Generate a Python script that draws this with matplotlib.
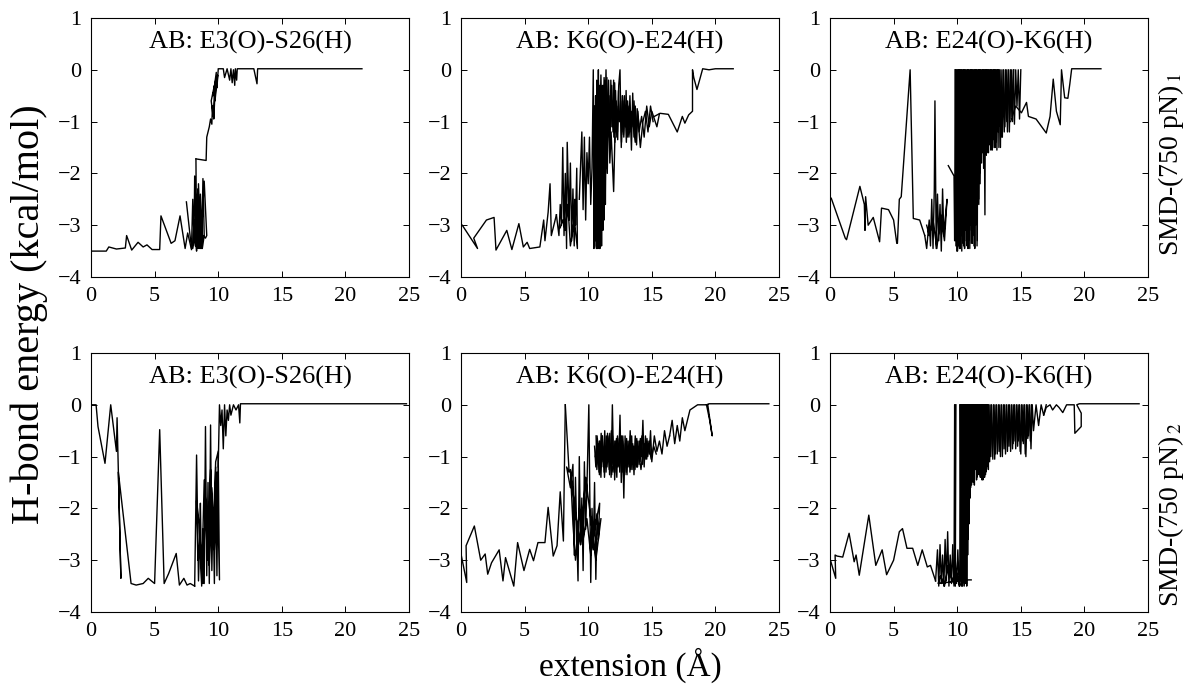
import matplotlib
matplotlib.use("Agg")
import matplotlib.pyplot as plt

plt.rcParams["font.family"] = ["Liberation Serif", "DejaVu Serif"]
plt.rcParams["mathtext.fontset"] = "stix"

# -----------------------------
# panel titles / row labels
# -----------------------------
titles = ["AB: E3(O)-S26(H)", "AB: K6(O)-E24(H)", "AB: E24(O)-K6(H)"]
row_labels = ["SMD-(750 pN)$_{\\,1}$", "SMD-(750 pN)$_{\\,2}$"]
x_ticks = [0, 5, 10, 15, 20, 25]
y_ticks = [-4, -3, -2, -1, 0, 1]

# -----------------------------
# panel 1 : E3(O)-S26(H), run 1
# -----------------------------
p1_x = [0.0, 1.2, 1.4, 2.0, 2.7, 2.8, 3.2, 3.7, 4.1, 4.4, 4.8, 5.4, 5.5, 6.3, 6.6, 7.0, 7.4, 7.6, 7.9]
p1_y = [-3.5, -3.5, -3.42, -3.46, -3.44, -3.2, -3.48, -3.33, -3.42, -3.38, -3.47, -3.47, -2.82, -3.35,
        -3.3, -2.82, -3.45, -3.15, -3.47]
c1_x = [7.5, 7.9, 8.0, 8.1, 8.15, 8.3, 8.2, 8.4, 8.45, 8.6, 8.55, 8.7, 8.8, 8.9, 8.75, 8.6, 8.5, 8.35,
        8.2, 8.1, 8.0, 8.25, 8.4, 8.6, 8.85, 9.0, 9.1, 8.9, 8.7, 8.3, 8.25]
c1_y = [-2.55, -3.45, -2.5, -3.3, -2.05, -3.5, -2.4, -3.45, -2.2, -3.3, -2.6, -3.45, -2.1, -3.2, -3.45,
        -2.4, -3.45, -2.7, -3.4, -2.9, -3.45, -3.1, -2.3, -3.45, -3.2, -3.25, -3.2, -2.15, -3.1, -3.45, -1.72]
r1_x = [8.25, 9.05, 9.1, 9.3, 9.4, 9.5, 9.55, 9.6, 9.45, 9.7, 9.65, 9.8, 9.6, 9.85, 9.75, 9.95, 9.9,
        10.0, 10.0, 10.4, 10.5, 10.7, 10.9, 11.0, 11.1, 11.2, 11.3, 11.35, 11.45, 11.5, 11.6, 12.5,
        12.8, 13.05, 13.1, 21.3]
r1_y = [-1.72, -1.75, -1.3, -1.1, -0.95, -1.05, -0.7, -0.9, -0.6, -0.3, -0.95, -0.2, -0.5, -0.05, -0.6,
        -0.1, -0.35, 0.0, 0.02, 0.02, -0.15, 0.02, -0.2, 0.02, -0.25, 0.0, -0.3, 0.02, -0.2, 0.02, 0.02,
        0.02, 0.02, -0.27, 0.02, 0.02]

# -----------------------------
# panel 2 : K6(O)-E24(H), run 1
# -----------------------------
p2_x = [0.1, 1.3, 1.0, 2.0, 2.6, 2.75, 3.6, 4.0, 4.55, 4.9, 5.2, 5.4, 6.2, 6.5, 6.6, 6.85, 7.0, 7.1, 7.5]
p2_y = [-3.0, -3.45, -3.25, -2.9, -2.85, -3.48, -3.1, -3.47, -2.97, -3.42, -3.33, -3.45, -3.42, -2.9,
        -3.3, -2.75, -2.2, -3.2, -2.8]
c2a_x = [7.5, 7.7, 7.8, 7.9, 8.0, 8.1, 8.2, 8.3, 8.35, 8.5, 8.6, 8.7, 8.8, 8.9, 8.95, 9.0, 9.1, 9.15,
         8.9, 8.6, 8.4, 8.2, 8.0, 7.8]
c2a_y = [-2.8, -3.2, -2.6, -3.0, -1.5, -3.2, -2.0, -3.45, -1.4, -2.9, -1.8, -3.3, -2.3, -3.4, -2.5,
         -3.0, -1.9, -3.45, -2.9, -3.4, -2.6, -3.1, -2.9, -3.05]
c2b_x = [9.3, 9.5, 9.6, 9.7, 9.8, 9.9, 10.0, 10.1, 10.2, 10.3, 10.4, 10.45, 10.5, 10.55, 10.6, 10.65,
         10.7, 10.75, 10.8, 10.85, 10.9, 10.95, 11.0, 11.05, 11.1, 11.15, 11.2, 11.25, 11.3, 11.35,
         11.4, 11.5, 11.6, 11.7, 11.8, 12.0, 12.1]
c2b_y = [-2.5, -1.2, -2.7, -1.3, -2.9, -1.6, -2.2, -1.3, -2.6, -1.9, 0.0, -3.45, -0.7, -3.3, -1.0,
         -3.45, -0.5, -3.0, 0.0, -3.45, -0.8, -3.35, -0.6, -3.4, -0.3, -3.1, -1.0, -2.9, -0.2, -2.6,
         -1.2, -2.0, -0.5, -1.8, -1.2, -2.35, -1.3]
c2c_x = [10.6, 10.8, 10.9, 11.0, 11.1, 11.2, 11.3, 11.4, 11.5, 11.6, 11.7, 11.8, 11.9, 12.0, 12.1,
         12.2, 12.3, 12.4, 12.5, 12.6, 12.7, 12.8, 12.9, 13.0, 13.1, 13.2, 13.3, 13.4, 13.5, 13.6,
         13.7, 13.8, 13.9, 14.0, 14.2, 14.4, 14.6, 14.8, 15.0, 15.2, 15.4, 15.6]
c2c_y = [-1.4, -0.2, -1.3, -0.1, -1.5, -0.3, -1.2, 0.0, -1.4, -0.2, -1.3, -0.4, -1.1, -0.2, -1.4,
         -0.6, -1.2, -0.3, 0.0, -1.5, -0.5, -1.3, -0.7, -1.4, -0.6, -1.2, -0.8, -1.55, -0.45, -1.3,
         -0.7, -1.45, -0.8, -1.2, -0.9, -1.3, -0.7, -1.1, -0.8, -0.95, -1.1, -0.85]
c2d_x = [10.5, 10.65, 10.75, 10.85, 11.0, 11.15, 11.25, 11.35, 11.45, 11.55, 11.65, 11.75, 11.85,
         11.95, 12.05, 12.15, 12.25, 12.35, 12.45, 12.55, 12.65, 12.75, 12.85, 12.95, 13.05, 13.2,
         13.35, 13.5, 13.7, 13.9, 14.1, 14.3, 14.5, 14.7, 14.9, 15.1]
c2d_y = [-0.7, -1.1, -0.3, -1.4, -0.6, -1.2, -0.15, -1.0, -0.5, -1.3, -0.7, -1.1, -0.3, -1.2, -0.9,
         -0.4, -1.3, -0.8, -1.0, -0.6, -1.2, -0.9, -0.5, -1.1, -0.8, -1.3, -0.9, -1.0, -1.4, -0.9,
         -1.5, -1.0, -0.8, -1.2, -0.7, -1.0]
c2e_x = [10.52, 10.58, 10.62, 10.68, 10.72, 10.78, 10.82, 10.88, 10.92, 10.98, 11.02, 11.08, 11.12,
         11.18, 11.22, 11.28, 11.32, 11.38, 11.45, 11.55]
c2e_y = [-3.4, -0.5, -3.3, -0.2, -3.45, -0.8, -3.1, -0.3, -3.45, -0.6, -3.2, -0.4, -3.0, -0.9, -2.8,
         -0.5, -2.4, -0.7, -1.9, -0.6]
c2f_x = [11.33, 11.42, 11.47, 11.57, 11.63, 11.72, 11.78, 11.87, 11.93, 12.02, 12.08, 12.17, 12.23,
         12.32, 12.38, 12.47, 12.53, 12.62, 12.68, 12.77, 12.83, 12.92, 12.98, 13.07, 13.13, 13.22,
         13.28, 13.37, 13.43, 13.52, 13.6, 13.75, 13.85, 14.0]
c2f_y = [-0.3, -1.3, -0.15, -1.2, -0.5, -1.4, -0.2, -1.1, -0.6, -1.3, -0.25, -1.2, -0.7, -1.35, -0.4,
         -1.0, -0.8, -1.4, -0.5, -1.25, -0.6, -1.1, -0.4, -1.3, -0.7, -1.0, -0.5, -1.2, -0.8, -1.1,
         -0.6, -1.3, -0.75, -1.05]
r2_x = [15.2, 15.65, 16.3, 17.0, 17.4, 17.6, 17.9, 18.2, 18.2, 18.3, 18.55, 18.8, 19.0, 19.5, 20.0, 21.4]
r2_y = [-0.9, -0.84, -0.86, -1.2, -0.9, -1.03, -0.87, -0.8, 0.0, -0.15, -0.38, -0.16, 0.02, 0.0, 0.02, 0.02]

# -----------------------------
# panel 3 : E24(O)-K6(H), run 1
# -----------------------------
p3_x = [0.1, 1.2, 1.3, 2.35, 2.7, 2.75, 2.8, 3.0, 3.4, 3.9, 4.05, 4.6, 5.0, 5.25, 5.3, 5.45, 5.6,
        6.3, 6.55, 7.05, 7.45]
p3_y = [-2.48, -3.25, -3.28, -2.25, -2.6, -3.1, -2.45, -3.0, -2.85, -3.32, -2.67, -2.7, -2.9, -3.35,
        -3.35, -2.5, -2.45, 0.0, -2.87, -2.9, -3.2]
c3a_x = [7.45, 7.6, 7.8, 7.9, 8.0, 8.1, 8.2, 8.25, 8.35, 8.45, 8.55, 8.65, 8.75, 8.85, 8.95, 9.05,
         9.2, 9.0, 8.7, 8.4, 8.1, 7.8, 7.6]
c3a_y = [-3.2, -3.45, -2.9, -3.4, -2.5, -3.45, -2.3, -0.6, -3.45, -2.4, -3.3, -2.6, -3.5, -2.3, -3.2,
         -2.9, -2.5, -3.3, -2.8, -3.45, -2.9, -3.2, -3.0]
c3b_x = [9.3, 9.75, 9.8, 9.85]
c3b_y = [-1.85, -2.05, -3.3, 0.0]
c3c_x = [9.85, 9.9, 10.0, 10.02, 10.1, 10.12, 10.2, 10.25, 10.3, 10.38, 10.42, 10.5, 10.55, 10.6,
         10.68, 10.72, 10.8, 10.85, 10.9, 10.97, 11.02, 11.1, 11.15, 11.2, 11.28, 11.32, 11.4, 11.45,
         11.5, 11.58, 11.62, 11.7, 11.75, 11.8, 11.88, 11.92, 12.0, 12.05, 12.1, 12.18, 12.22, 12.3,
         12.35, 12.4, 12.48, 12.52, 12.6, 12.65, 12.7, 12.78, 12.82, 12.9, 12.95, 13.0, 13.08, 13.12,
         13.2, 13.25, 13.3, 13.4, 13.45, 13.55, 13.6, 13.7, 13.8, 13.9, 14.0, 14.1, 14.2, 14.3, 14.4,
         14.5, 14.6, 14.7, 14.8, 14.9, 15.0]
c3c_y = [0.0, -3.4, 0.0, -3.5, 0.0, -3.2, 0.0, -3.45, 0.0, -3.0, 0.0, -3.4, 0.0, -3.3,
         0.0, -2.9, 0.0, -3.45, 0.0, -3.1, 0.0, -3.35, 0.0, -2.8, 0.0, -3.4, 0.0, -3.0,
         0.0, -3.3, 0.0, -2.6, 0.0, -2.2, 0.0, -1.8, 0.0, -1.6, 0.0, -2.8, 0.0, -1.5,
         0.0, -1.6, 0.0, -1.3, 0.0, -1.55, 0.0, -1.2, 0.0, -1.5, 0.0, -1.4, 0.0, -1.55,
         0.0, -1.1, 0.0, -1.5, 0.0, -1.3, 0.0, -1.2, 0.0, -1.0, 0.0, -1.2, 0.0, -0.9, 0.0,
         -1.05, 0.0, -0.7, 0.0, -0.95, 0.0]
c3d_x = [9.88, 9.93, 9.97, 10.05, 10.08, 10.15, 10.18, 10.23, 10.28, 10.33, 10.36, 10.45, 10.48,
         10.53, 10.58, 10.63, 10.66, 10.75, 10.78, 10.83, 10.88, 10.93, 10.99, 11.05, 11.08, 11.13,
         11.18, 11.23, 11.26, 11.35, 11.38, 11.43, 11.48, 11.53, 11.56, 11.65, 11.68, 11.73, 11.78,
         11.83, 11.86, 11.95, 11.98, 12.03, 12.08, 12.13, 12.16, 12.25, 12.28, 12.33, 12.38, 12.43,
         12.46, 12.55, 12.58, 12.63, 12.68, 12.73, 12.76, 12.85, 12.88, 12.93, 12.98, 13.03, 13.06,
         13.15, 13.18, 13.23, 13.28, 13.35, 13.5, 13.65, 13.75, 13.85, 13.95, 14.05, 14.15, 14.25,
         14.35, 14.45]
c3d_y = [-3.3, 0.0, -3.5, 0.0, -3.4, 0.0, -3.45, 0.0, -3.2, 0.0, -3.5, 0.0, -3.35, 0.0, -3.45, 0.0,
         -3.1, 0.0, -3.4, 0.0, -3.3, 0.0, -3.45, 0.0, -3.0, 0.0, -3.35, 0.0, -3.2, 0.0, -3.45, 0.0,
         -2.9, 0.0, -3.4, 0.0, -2.5, 0.0, -2.0, 0.0, -1.7, 0.0, -1.6, 0.0, -1.9, 0.0, -1.5, 0.0,
         -1.65, 0.0, -1.4, 0.0, -1.6, 0.0, -1.45, 0.0, -1.3, 0.0, -1.55, 0.0, -1.35, 0.0, -1.5, 0.0,
         -1.4, 0.0, -1.2, 0.0, -1.5, 0.0, -1.3, 0.0, -1.1, 0.0, -1.2, 0.0, -0.95, 0.0, -1.0, 0.0]
r3_x = [14.2, 14.6, 15.05, 15.45, 15.6, 16.2, 17.0, 17.3, 17.55, 17.8, 18.1, 18.2, 18.45, 18.7,
        18.85, 19.0, 21.3]
r3_y = [-1.0, -0.7, -0.83, -0.63, -0.9, -0.95, -1.22, -0.9, -0.18, -0.8, -1.06, 0.0, -0.54, -0.55,
        -0.28, 0.02, 0.02]

# -----------------------------
# panel 4 : E3(O)-S26(H), run 2
# -----------------------------
p4_x = [0.0, 0.4, 0.55, 1.1, 1.55, 2.0, 2.05, 2.35, 2.15, 3.15, 3.55, 4.1, 4.5, 5.0, 5.4, 5.75,
        6.1, 6.7, 6.95, 7.3, 7.55, 7.8, 8.15]
p4_y = [0.0, 0.0, -0.42, -1.13, 0.0, -0.9, -0.25, -3.35, -1.3, -3.45, -3.48, -3.45, -3.35, -3.45,
        -0.48, -3.45, -3.26, -2.87, -3.48, -3.35, -3.48, -3.45, -3.5]
c4_x = [8.15, 8.3, 8.45, 8.55, 8.6, 8.7, 8.8, 8.9, 9.0, 9.1, 9.2, 9.3, 9.4, 9.5, 9.6, 9.7, 9.8,
        9.9, 10.0, 10.1, 9.9, 9.7, 9.5, 9.3, 9.1, 8.9, 8.7, 8.5, 8.3, 8.4, 8.6, 8.8, 9.0, 9.2, 9.4,
        9.6, 9.8, 10.0]
c4_y = [-3.5, -0.97, -3.4, -2.6, -1.9, -3.5, -2.4, -3.45, -0.42, -3.3, -1.5, -3.45, -0.39, -3.2,
        -2.0, -3.45, -1.2, -3.3, -0.94, -3.38, -1.3, -2.8, -1.6, -3.1, -2.2, -1.45, -3.45, -2.3,
        -1.85, -3.0, -2.7, -3.45, -1.9, -3.0, -1.25, -2.5, -1.1, -0.9]
r4_x = [10.0, 10.1, 10.2, 10.3, 10.4, 10.5, 10.6, 10.7, 10.8, 10.9, 11.0, 11.2, 11.4, 11.6, 11.7,
        11.75, 12.0, 24.8]
r4_y = [-1.2, 0.0, -0.4, -0.1, -0.85, 0.0, -0.6, -0.1, -0.3, 0.0, -0.2, 0.0, -0.1, 0.0, -0.35,
        0.02, 0.02, 0.02]

# -----------------------------
# panel 5 : K6(O)-E24(H), run 2
# -----------------------------
p5_x = [0.0, 0.45, 0.4, 1.05, 1.55, 1.9, 2.1, 2.4, 3.0, 3.3, 3.5, 4.15, 4.45, 4.95, 5.4, 5.7,
        6.05, 6.6, 6.85, 7.25, 7.55, 7.8, 8.05, 8.2]
p5_y = [-2.88, -3.43, -2.72, -2.34, -3.0, -2.88, -3.27, -3.05, -2.8, -3.4, -2.95, -3.5, -2.66,
        -3.2, -2.79, -3.01, -2.66, -2.66, -1.98, -2.92, -2.72, -1.68, -2.63, 0.0]
c5a_x = [8.2, 8.5, 8.3, 8.6, 8.8, 8.9, 9.0, 9.1, 9.2, 9.3, 9.4, 9.5, 9.6, 9.7, 9.8, 9.9, 10.05,
         10.2, 10.3, 10.4, 10.5, 10.6, 10.7, 10.8, 10.9, 10.5, 10.2, 9.9, 9.6, 9.3, 9.0, 8.8, 8.6,
         9.0, 9.4, 9.8, 10.2, 10.6, 11.0]
c5a_y = [0.0, -1.3, -1.2, -1.6, -1.15, -2.9, -1.4, -2.5, -3.4, -1.0, -2.7, -1.8, -3.2, -1.1, -2.4,
         -1.6, 0.0, -3.43, -2.0, -2.8, -1.5, -3.37, -2.1, -2.6, -1.9, -2.4, -2.9, -2.2, -2.6, -2.0,
         -3.0, -2.3, -1.25, -2.1, -2.7, -1.4, -2.2, -3.0, -2.2]
c5b_x = [10.5, 10.6, 10.7, 10.8, 10.9, 11.0, 11.1, 11.2, 11.3, 11.4, 11.5, 11.6, 11.7, 11.8, 11.9,
         12.0, 12.1, 12.2, 12.3, 12.4, 12.5, 12.6, 12.7, 12.8, 12.9, 13.0, 13.1, 13.2, 13.3, 13.4,
         13.5, 13.6, 13.7, 13.8, 13.9, 14.0, 14.1, 14.2, 14.3, 14.4, 14.5, 14.6, 14.7, 14.8, 14.9,
         15.0, 15.2, 15.4, 15.6, 15.8, 16.0, 16.2, 16.4]
c5b_y = [-0.8, -1.2, -0.6, -1.1, -0.7, -1.4, -0.6, -1.2, -0.5, -1.3, -0.8, -1.1, -0.55, -1.4, 0.0,
         -1.2, -0.7, -1.3, -0.6, -1.1, -0.2, -1.5, -0.7, -1.8, -0.6, -1.3, -0.8, -1.2, -0.5, -1.1,
         -0.75, -1.35, -0.6, -1.2, -0.7, -1.15, -0.65, -1.0, -0.3, -1.2, -0.6, -1.05, -0.7, -0.95,
         -0.5, -1.1, -0.6, -0.9, -0.7, -0.95, -0.5, -0.8, -0.6]
c5c_x = [10.55, 10.75, 10.95, 11.15, 11.35, 11.55, 11.75, 11.95, 12.15, 12.35, 12.55, 12.75, 12.95,
         13.15, 13.35, 13.55, 13.75, 13.95, 14.15, 14.35, 14.55, 14.75, 14.95, 15.15, 15.35]
c5c_y = [-1.0, -0.7, -1.3, -0.8, -1.2, -0.6, -1.0, -1.3, -0.75, -1.2, -0.9, -1.3, -0.85, -1.0, -1.25,
         -0.8, -1.1, -0.9, -1.25, -0.8, -1.0, -0.75, -1.05, -0.8, -0.95]
c5d_x = [10.62, 10.68, 10.82, 10.88, 11.02, 11.08, 11.22, 11.28, 11.42, 11.48, 11.62, 11.68, 11.82,
         11.88, 12.02, 12.08, 12.22, 12.28, 12.42, 12.48, 12.62, 12.68, 12.82, 12.88, 13.02, 13.08,
         13.22, 13.28, 13.42, 13.48, 13.62, 13.68, 13.82, 13.88, 14.02, 14.08, 14.22, 14.28, 14.42,
         14.48, 14.62, 14.68, 14.82, 14.88]
c5d_y = [-0.6, -1.25, -0.75, -1.35, -0.55, -1.1, -0.85, -1.4, -0.6, -1.2, -0.7, -1.35, -0.5, -1.15,
         -0.8, -1.45, -0.65, -1.2, -0.75, -1.3, -0.6, -1.25, -0.9, -1.35, -0.65, -1.2, -0.7, -1.3,
         -0.6, -1.15, -0.8, -1.25, -0.65, -1.2, -0.7, -1.1, -0.6, -1.15, -0.75, -1.05, -0.65, -1.0,
         -0.7, -0.95]
c5e_x = [10.65, 10.72, 10.85, 10.92, 11.05, 11.12, 11.25, 11.32, 11.45, 11.52, 11.65, 11.72, 11.85,
         11.92, 12.05, 12.12, 12.25, 12.32, 12.45, 12.52, 12.65, 12.72, 12.85, 12.92, 13.05, 13.12,
         13.25, 13.32, 13.45, 13.52, 13.65, 13.72, 13.85, 13.92, 14.05, 14.12]
c5e_y = [-1.15, -0.65, -1.3, -0.7, -1.2, -0.6, -1.3, -0.8, -1.1, -0.55, -1.25, -0.75, -1.35, -0.6,
         -1.2, -0.7, -1.4, -0.65, -1.15, -0.8, -1.3, -0.6, -1.2, -0.75, -1.35, -0.7, -1.1, -0.6,
         -1.25, -0.8, -1.15, -0.65, -1.2, -0.8, -1.05, -0.7]
r5_x = [16.4, 16.6, 16.8, 17.0, 17.2, 17.4, 17.6, 17.8, 18.0, 18.3, 18.6, 19.0, 19.4, 19.75, 19.55,
        19.3, 19.5, 20.0, 24.2]
r5_y = [-0.6, -0.3, -0.75, -0.4, -0.7, -0.25, -0.5, -0.3, -0.1, -0.05, 0.0, 0.0, 0.0, -0.6, -0.3,
        0.0, 0.02, 0.02, 0.02]

# -----------------------------
# panel 6 : E24(O)-K6(H), run 2
# -----------------------------
p6_x = [0.0, 0.45, 0.4, 0.55, 1.0, 1.5, 1.9, 2.05, 2.3, 3.05, 3.6, 4.1, 4.45, 5.0, 5.45, 5.7, 6.05,
        6.5, 6.9, 7.25, 7.65, 7.9, 8.3]
p6_y = [-2.97, -3.35, -2.9, -2.92, -2.94, -2.48, -3.03, -2.9, -3.29, -2.13, -3.1, -2.8, -3.28, -3.0,
        -2.45, -2.39, -2.77, -2.77, -3.1, -2.8, -3.13, -3.1, -3.4]
c6a_x = [8.3, 8.45, 8.55, 8.65, 8.75, 8.85, 8.95, 9.05, 9.15, 9.25, 9.35, 9.45, 9.55, 9.65, 9.75,
         9.85, 9.95, 10.05, 10.15, 10.25, 10.35, 10.45, 10.55, 10.65, 10.75, 10.5, 10.2, 9.9, 9.6,
         9.3, 9.0, 8.7, 8.5, 10.9, 11.1]
c6a_y = [-3.4, -2.8, -3.5, -2.7, -3.45, -2.9, -3.5, -2.6, -3.4, -2.45, -3.5, -2.9, -3.45, -2.7, -3.5,
         -3.0, -3.45, -2.8, -3.5, -3.0, -3.45, -2.9, -3.5, -3.1, -3.45, -3.35, -3.5, -3.2, -3.4, -3.1,
         -3.5, -3.3, -3.45, -3.38, -3.38]
c6b_x = [9.75, 9.8, 9.85, 9.9]
c6b_y = [-3.45, 0.0, -3.5, 0.0]
c6c_x = [10.2, 10.25, 10.3, 10.35, 10.4, 10.45, 10.5, 10.55, 10.6, 10.65,
         10.7, 10.75, 10.8, 10.85, 10.9, 10.95, 11.0, 11.05, 11.1, 11.15,
         11.2, 11.25, 11.3, 11.35, 11.4, 11.45, 11.5, 11.55, 11.6, 11.65,
         11.7, 11.75, 11.8, 11.85, 11.9, 11.95, 12.0, 12.05, 12.1, 12.15,
         12.2, 12.25, 12.3, 12.35, 12.4, 12.45, 12.5, 12.6, 12.7, 12.8,
         12.9, 13.0, 13.1, 13.2, 13.3, 13.4, 13.5, 13.6, 13.7, 13.8,
         13.9, 14.0, 14.1, 14.2, 14.3, 14.4, 14.5, 14.6, 14.7, 14.8,
         14.9, 15.0, 15.1, 15.2, 15.3, 15.4, 15.5, 15.6, 15.7, 15.8,
         15.9, 16.0, 16.2, 16.4, 16.6, 16.8, 17.0]
c6c_y = [0.0, -3.4, 0.0, -3.5, 0.0, -3.2, 0.0, -3.45, 0.0, -3.0,
         0.0, -3.5, 0.0, -2.6, 0.0, -2.0, 0.0, -1.6, 0.0, -1.5,
         0.0, -1.3, 0.0, -1.55, 0.0, -1.2, 0.0, -1.4, 0.0, -1.3,
         0.0, -1.1, 0.0, -1.35, 0.0, -1.45, 0.0, -1.2, 0.0, -1.4,
         0.0, -1.3, 0.0, -1.1, 0.0, -1.25, 0.0, -1.0, 0.0, -1.05,
         0.0, -0.95, 0.0, -0.9, 0.0, -1.0, 0.0, -0.85, 0.0, -0.95,
         0.0, -0.8, 0.0, -0.9, 0.0, -0.75, 0.0, -0.85, 0.0, -0.7,
         0.0, -0.95, 0.0, -0.75, 0.0, -1.0, 0.0, -0.6, 0.0, -0.85,
         0.0, -0.5, 0.0, -0.4, 0.0, -0.2, 0.0]
c6d_x = [10.22, 10.28, 10.32, 10.38, 10.42, 10.48, 10.52, 10.58, 10.62, 10.68,
         10.72, 10.78, 10.82, 10.88, 10.92, 10.98, 11.02, 11.08, 11.12, 11.18,
         11.22, 11.28, 11.32, 11.38, 11.42, 11.48, 11.52, 11.58, 11.62, 11.68,
         11.72, 11.78, 11.82, 11.88, 11.92, 11.98, 12.02, 12.08, 12.12, 12.18,
         12.22, 12.28, 12.32, 12.38, 12.42, 12.48, 12.55, 12.65, 12.75, 12.85,
         12.95, 13.05, 13.15, 13.25, 13.35, 13.45, 13.55, 13.65, 13.75, 13.85,
         13.95, 14.05, 14.15, 14.25, 14.35, 14.45, 14.55, 14.65, 14.75, 14.85,
         14.95, 15.05, 15.15, 15.25, 15.35, 15.45, 15.55, 15.65, 15.75, 15.85]
c6d_y = [-3.45, 0.0, -3.3, 0.0, -3.5, 0.0, -3.1, 0.0, -3.45, 0.0,
         -3.3, 0.0, -2.9, 0.0, -2.3, 0.0, -1.8, 0.0, -1.55, 0.0,
         -1.4, 0.0, -1.5, 0.0, -1.25, 0.0, -1.45, 0.0, -1.2, 0.0,
         -1.35, 0.0, -1.4, 0.0, -1.3, 0.0, -1.45, 0.0, -1.25, 0.0,
         -1.35, 0.0, -1.15, 0.0, -1.2, 0.0, -1.1, 0.0, -1.0, 0.0,
         -1.05, 0.0, -0.95, 0.0, -0.9, 0.0, -1.0, 0.0, -0.85, 0.0,
         -0.9, 0.0, -0.8, 0.0, -0.85, 0.0, -0.7, 0.0, -0.8, 0.0,
         -0.9, 0.0, -0.7, 0.0, -0.95, 0.0, -0.65, 0.0, -0.7, 0.0]
r6_x = [16.8, 17.0, 17.3, 17.5, 17.8, 18.0, 18.3, 18.6, 19.0, 19.2, 19.25, 19.75, 19.75, 19.4, 19.6,
        20.0, 24.3]
r6_y = [-0.2, -0.05, 0.0, -0.1, 0.0, -0.05, -0.15, 0.0, 0.0, 0.0, -0.55, -0.42, -0.16, 0.0, 0.02,
        0.02, 0.02]

panels = [
    [(p1_x, p1_y), (c1_x, c1_y), (r1_x, r1_y)],
    [(p2_x, p2_y), (c2a_x, c2a_y), (c2b_x, c2b_y), (c2c_x, c2c_y), (c2d_x, c2d_y),
     (c2e_x, c2e_y), (c2f_x, c2f_y), (r2_x, r2_y)],
    [(p3_x, p3_y), (c3a_x, c3a_y), (c3b_x, c3b_y), (c3c_x, c3c_y), (c3d_x, c3d_y), (r3_x, r3_y)],
    [(p4_x, p4_y), (c4_x, c4_y), (r4_x, r4_y)],
    [(p5_x, p5_y), (c5a_x, c5a_y), (c5b_x, c5b_y), (c5c_x, c5c_y), (c5d_x, c5d_y),
     (c5e_x, c5e_y), (r5_x, r5_y)],
    [(p6_x, p6_y), (c6a_x, c6a_y), (c6b_x, c6b_y), (c6c_x, c6c_y), (c6d_x, c6d_y), (r6_x, r6_y)],
]

# -----------------------------
# figure
# -----------------------------
fig = plt.figure(figsize=(11.9, 6.9), dpi=100)

lefts = [91, 461, 830]
tops = [18, 353]
W, H = 318, 259

for i, traces in enumerate(panels):
    row, col = divmod(i, 3)
    ax = fig.add_axes([lefts[col] / 1190, 1 - (tops[row] + H) / 690, W / 1190, H / 690])
    for xs, ys in traces:
        ax.plot(xs, ys, color="black", lw=1.0)
    ax.set_xlim(0, 25)
    ax.set_ylim(-4, 1)
    ax.set_xticks(x_ticks)
    ax.set_yticks(y_ticks)
    ax.set_yticklabels([str(v).replace("-", "\u2212") for v in y_ticks])
    ax.tick_params(direction="in", top=True, right=True, length=4, width=0.7,
                   labelsize=16, pad=7)
    for s in ax.spines.values():
        s.set_linewidth(0.8)
    ax.text(0.5, 0.905, titles[col], transform=ax.transAxes, ha="center", va="center",
            fontsize=19)

fig.text(0.025, 0.545, "H-bond energy (kcal/mol)", rotation=90, ha="center", va="center",
         fontsize=29)
fig.text(0.53, 0.035, "extension (\u00c5)", ha="center", va="center", fontsize=24)
fig.text(0.984, 1 - 165 / 690, row_labels[0], rotation=90, ha="center", va="center", fontsize=20)
fig.text(0.984, 1 - 515 / 690, row_labels[1], rotation=90, ha="center", va="center", fontsize=20)

fig.savefig("out.png", dpi=100)
